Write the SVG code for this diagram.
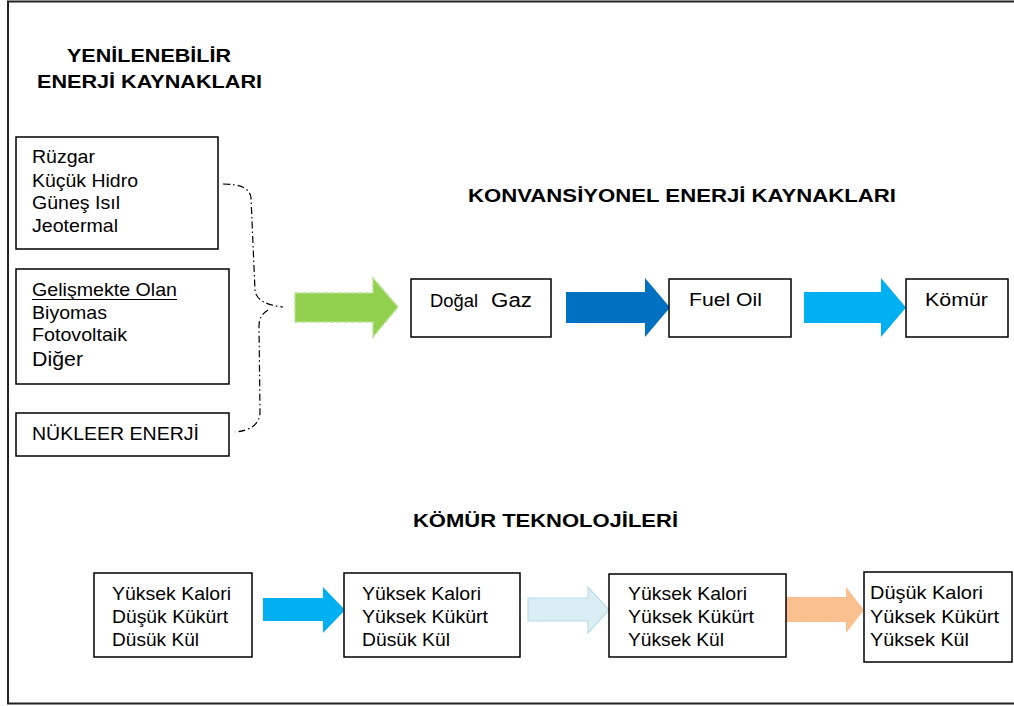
<svg xmlns="http://www.w3.org/2000/svg" width="1014" height="706" viewBox="0 0 1014 706">
<style>
text{font-family:"Liberation Sans",Arial,sans-serif;fill:#000}
.t{font-size:18.5px}
.h{font-size:19px;font-weight:bold}
.box{fill:#fff;stroke:#000;stroke-width:1.5}
.brace{fill:none;stroke:#000;stroke-width:1.2;stroke-dasharray:7 3 1.5 3}
</style>
<rect x="0" y="0" width="1014" height="706" fill="#fff"/>
<rect x="8" y="1.5" width="1012" height="702" fill="none" stroke="#222" stroke-width="2"/>

<g id="titles">
<text class="h" x="67" y="62" textLength="164" lengthAdjust="spacingAndGlyphs">YENİLENEBİLİR</text>
<text class="h" x="37" y="88" textLength="225" lengthAdjust="spacingAndGlyphs">ENERJİ KAYNAKLARI</text>
<text class="h" x="468" y="202" textLength="428" lengthAdjust="spacingAndGlyphs">KONVANSİYONEL ENERJİ KAYNAKLARI</text>
<text class="h" x="413" y="527" textLength="265" lengthAdjust="spacingAndGlyphs">KÖMÜR TEKNOLOJİLERİ</text>
</g>

<g id="renewables">
<rect class="box" x="16" y="137" width="202" height="112"/>
<text class="t" x="32" y="163" textLength="63" lengthAdjust="spacingAndGlyphs">Rüzgar</text>
<text class="t" x="32" y="187" textLength="106" lengthAdjust="spacingAndGlyphs">Küçük Hidro</text>
<text class="t" x="32" y="209" textLength="88" lengthAdjust="spacingAndGlyphs">Güneş Isıl</text>
<text class="t" x="32" y="232" textLength="86" lengthAdjust="spacingAndGlyphs">Jeotermal</text>
</g>

<g id="developing">
<rect class="box" x="16" y="269" width="213" height="115"/>
<text class="t" x="32" y="296" textLength="145" lengthAdjust="spacingAndGlyphs">Gelişmekte Olan</text>
<line x1="32" y1="299.5" x2="177" y2="299.5" stroke="#000" stroke-width="1"/>
<text class="t" x="32" y="319" textLength="75" lengthAdjust="spacingAndGlyphs">Biyomas</text>
<text class="t" x="32" y="341" textLength="95" lengthAdjust="spacingAndGlyphs">Fotovoltaik</text>
<text x="32" y="366" font-size="21" textLength="51" lengthAdjust="spacingAndGlyphs">Diğer</text>
</g>

<g id="nuclear">
<rect class="box" x="16" y="413" width="213" height="43"/>
<text class="t" x="32" y="440" textLength="167" lengthAdjust="spacingAndGlyphs">NÜKLEER ENERJİ</text>
</g>

<g id="connectors">
<path class="brace" d="M223,184 C240,184 250,188 251,198 L255,290 C256,300 266,305 283,307"/>
<path class="brace" d="M268,310 C262,314 259,318 259,326 L260,412 C260,424 250,431 235,432"/>
<path d="M295,293 L373,293 L373,278 L398,307 L373,337 L373,322 L295,322 Z" fill="#92D050" stroke="#b9e291" stroke-width="1.5" stroke-dasharray="5 2"/>
<path d="M566,292 L645,292 L645,278 L670,307.5 L645,337 L645,323 L566,323 Z" fill="#0070C0"/>
<path d="M804,292 L881,292 L881,278 L906,307.5 L881,337 L881,323 L804,323 Z" fill="#00B0F0"/>
<path d="M263,598 L323,598 L323,587 L345,610 L323,633 L323,621 L263,621 Z" fill="#00B0F0"/>
<path d="M528,598 L588,598 L588,587 L609,610 L588,633 L588,621 L528,621 Z" fill="#DAEEF3" stroke="#B7DEE8" stroke-width="1.2"/>
<path d="M786,597 L846,597 L846,587 L864,610 L846,633 L846,622 L786,622 Z" fill="#FAC090"/>
</g>

<g id="dogalgaz">
<rect class="box" x="411" y="279" width="140" height="58"/>
<text x="430" y="307" font-size="17.5" textLength="48" lengthAdjust="spacingAndGlyphs">Doğal</text>
<text x="491" y="307" font-size="20" textLength="41" lengthAdjust="spacingAndGlyphs">Gaz</text>
</g>

<g id="fueloil">
<rect class="box" x="669" y="279" width="122" height="58"/>
<text x="689" y="306" font-size="19" textLength="73" lengthAdjust="spacingAndGlyphs">Fuel Oil</text>
</g>

<g id="komur">
<rect class="box" x="906" y="279" width="102" height="58"/>
<text x="925" y="306" font-size="19" textLength="63" lengthAdjust="spacingAndGlyphs">Kömür</text>
</g>

<g id="coal1">
<rect class="box" x="94" y="573" width="158" height="84"/>
<text class="t" x="112" y="600" textLength="119" lengthAdjust="spacingAndGlyphs">Yüksek Kalori</text>
<text class="t" x="112" y="623" textLength="116" lengthAdjust="spacingAndGlyphs">Düşük Kükürt</text>
<text class="t" x="112" y="646" textLength="87" lengthAdjust="spacingAndGlyphs">Düsük Kül</text>
</g>

<g id="coal2">
<rect class="box" x="344" y="573" width="176" height="84"/>
<text class="t" x="362" y="600" textLength="119" lengthAdjust="spacingAndGlyphs">Yüksek Kalori</text>
<text class="t" x="362" y="623" textLength="126" lengthAdjust="spacingAndGlyphs">Yüksek Kükürt</text>
<text class="t" x="362" y="646" textLength="88" lengthAdjust="spacingAndGlyphs">Düsük Kül</text>
</g>

<g id="coal3">
<rect class="box" x="609" y="574" width="177" height="83"/>
<text class="t" x="628" y="600" textLength="119" lengthAdjust="spacingAndGlyphs">Yüksek Kalori</text>
<text class="t" x="628" y="623" textLength="126" lengthAdjust="spacingAndGlyphs">Yüksek Kükürt</text>
<text class="t" x="628" y="646" textLength="96" lengthAdjust="spacingAndGlyphs">Yüksek Kül</text>
</g>

<g id="coal4">
<rect class="box" x="864" y="572" width="148" height="90"/>
<text class="t" x="870" y="599" textLength="113" lengthAdjust="spacingAndGlyphs">Düşük Kalori</text>
<text class="t" x="870" y="623" textLength="129" lengthAdjust="spacingAndGlyphs">Yüksek Kükürt</text>
<text class="t" x="870" y="646" textLength="99" lengthAdjust="spacingAndGlyphs">Yüksek Kül</text>
</g>
</svg>
